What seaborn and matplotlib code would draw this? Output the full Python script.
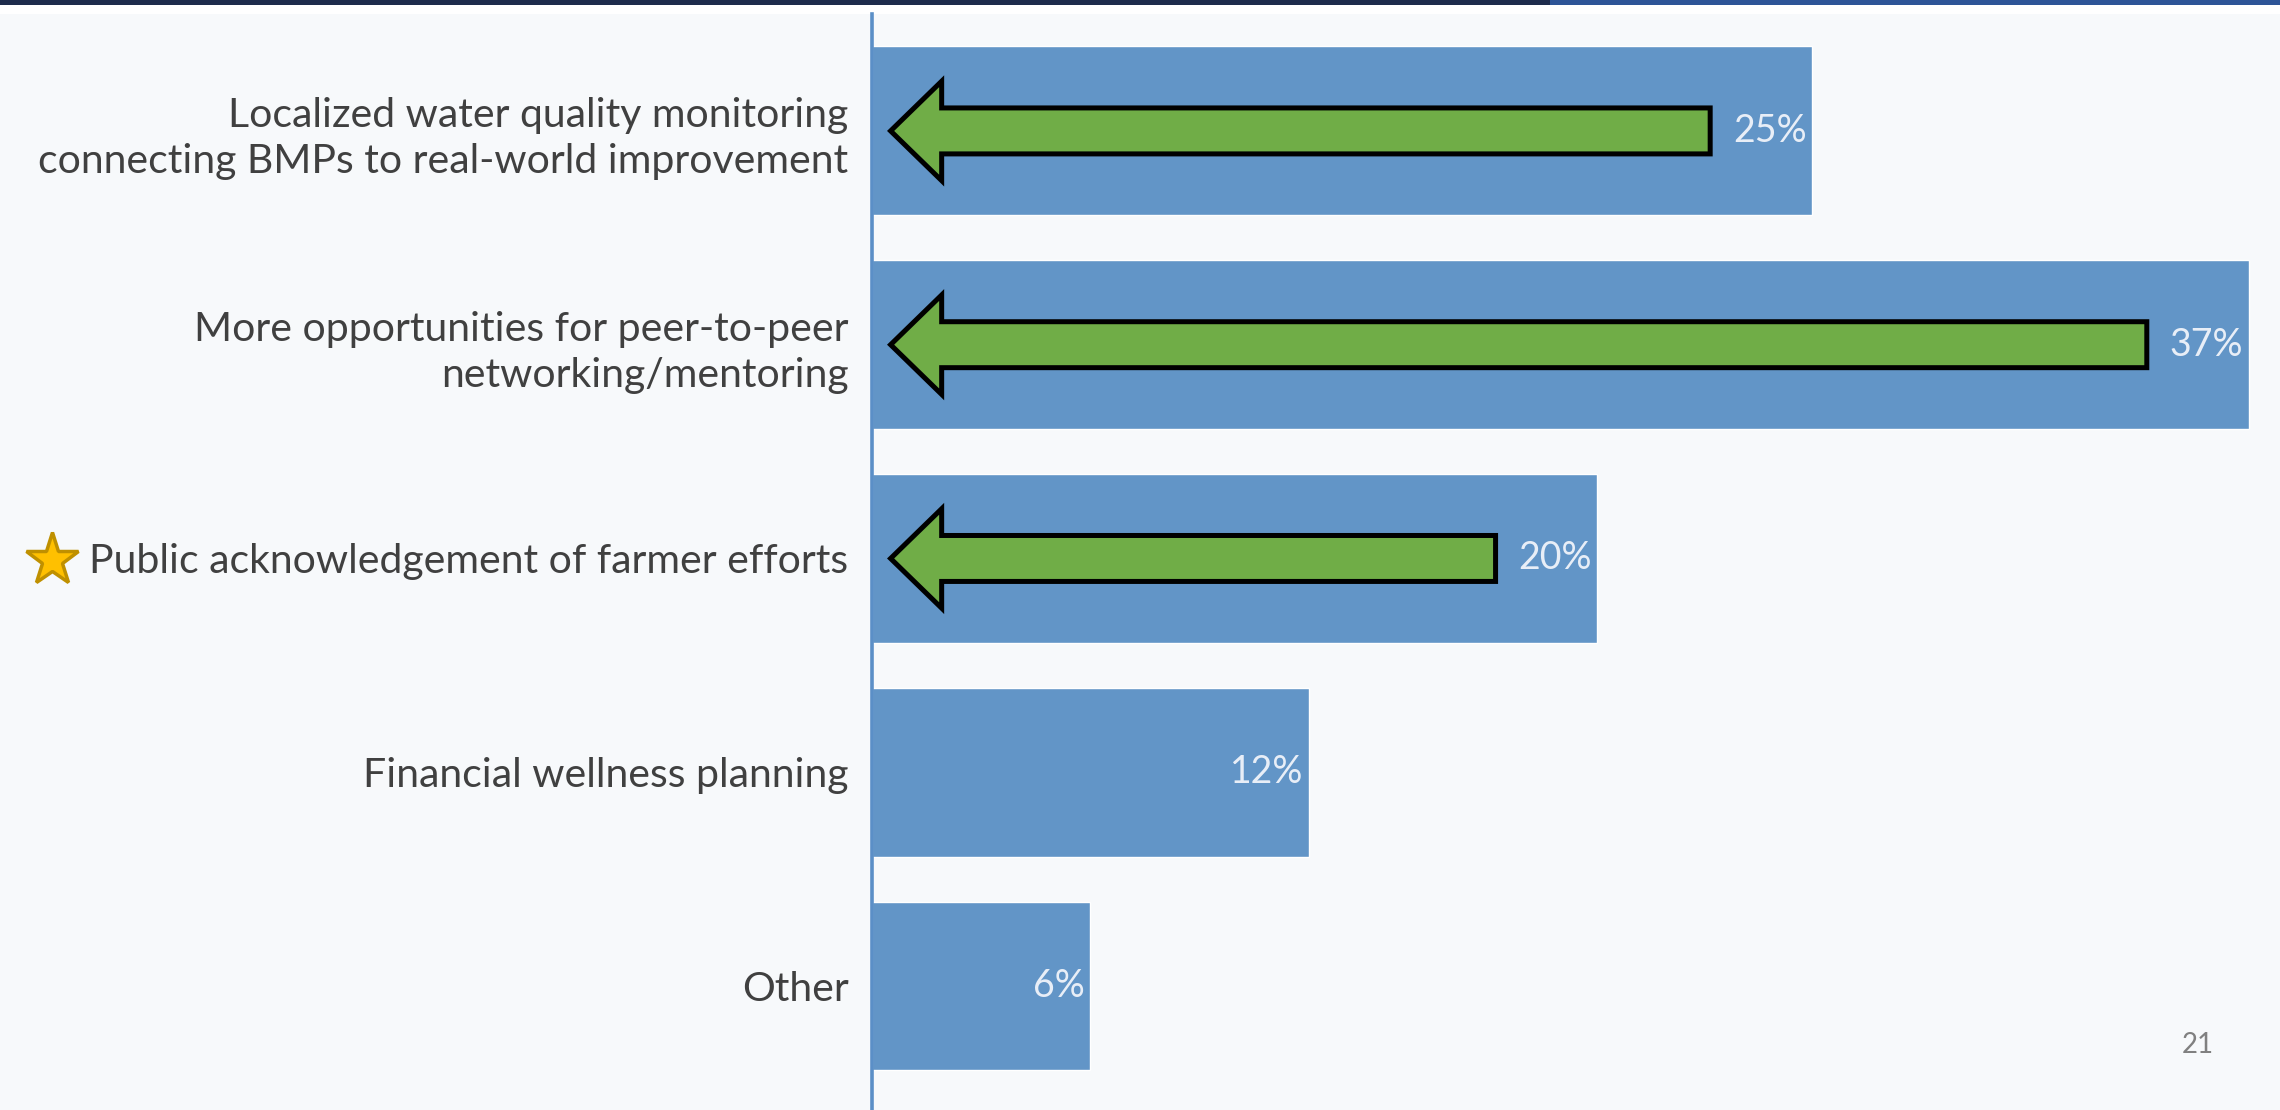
import pandas as pd
import seaborn as sns
import matplotlib.pyplot as plt
from matplotlib.patches import FancyArrow, Rectangle

# Chart data
categories = [
    "Localized water quality monitoring\nconnecting BMPs to real-world improvement",
    "More opportunities for peer-to-peer\nnetworking/mentoring",
    "Public acknowledgement of farmer efforts",
    "Financial wellness planning",
    "Other",
]
values = [25.4, 37.2, 19.6, 11.8, 5.9]
value_labels = ["25%", "37%", "20%", "12%", "6%"]
arrow_rows = [0, 1, 2]
page_number = "21"

df = pd.DataFrame({"option": categories, "pct": values})

sns.set_style("white")
plt.rcParams["font.family"] = ["Lato", "DejaVu Sans"]

bg = "#f7f9fb"
fig = plt.figure(figsize=(22.8, 11.1), dpi=100, facecolor=bg)

# header bands
fig.add_artist(Rectangle((0, 0.9874), 1, 0.0126, transform=fig.transFigure,
                         facecolor="white", edgecolor="none", zorder=0))
fig.add_artist(Rectangle((0, 0.9955), 0.68, 0.0045, transform=fig.transFigure,
                         facecolor="#1e2c4c", edgecolor="none", zorder=1))
fig.add_artist(Rectangle((0.68, 0.9955), 0.32, 0.0045, transform=fig.transFigure,
                         facecolor="#2e5597", edgecolor="none", zorder=1))

ax = fig.add_axes([0.3825, 0.0, 0.6175, 0.9874])
ax.set_facecolor(bg)

sns.barplot(data=df, x="pct", y="option", orient="h", color="#6295c7",
            width=0.79, saturation=1, ax=ax)

ax.set_xlim(0, 38.05)
ax.set_ylim(4.58, -0.547)
ax.set_xlabel("")
ax.set_ylabel("")
ax.set_xticks([])
for s in ["top", "right", "bottom"]:
    ax.spines[s].set_visible(False)
ax.spines["left"].set_color("#5b8fc7")
ax.spines["left"].set_linewidth(2.6)
ax.tick_params(axis="y", length=0, pad=17, labelsize=29.5, labelcolor="#404040")
for t in ax.get_yticklabels():
    t.set_linespacing(1.3)

# value labels inside bar ends
for i, (v, lab) in enumerate(zip(values, value_labels)):
    ax.text(v - 0.15, i, lab, ha="right", va="center", fontsize=27,
            color="#e8eef7")

# green arrows
for i in arrow_rows:
    tail = values[i] - 2.75
    tip = 0.5
    ax.add_patch(FancyArrow(tail, i, -(tail - tip), 0, width=0.215,
                            head_width=0.465, head_length=1.38,
                            length_includes_head=True, facecolor="#70ad47",
                            edgecolor="black", linewidth=3.6, zorder=3))

# star next to the third label
fig.add_artist(plt.Line2D([0.0228], [1 - 560 / 1110], marker="*",
                          markersize=40, markerfacecolor="#ffc000",
                          markeredgecolor="#bf9000", markeredgewidth=2.5,
                          transform=fig.transFigure))

fig.text(2198 / 2280, 1 - 1045 / 1110, page_number, ha="center", va="center",
         fontsize=20, color="#808080")

fig.savefig("out.png", dpi=100, facecolor=bg)
